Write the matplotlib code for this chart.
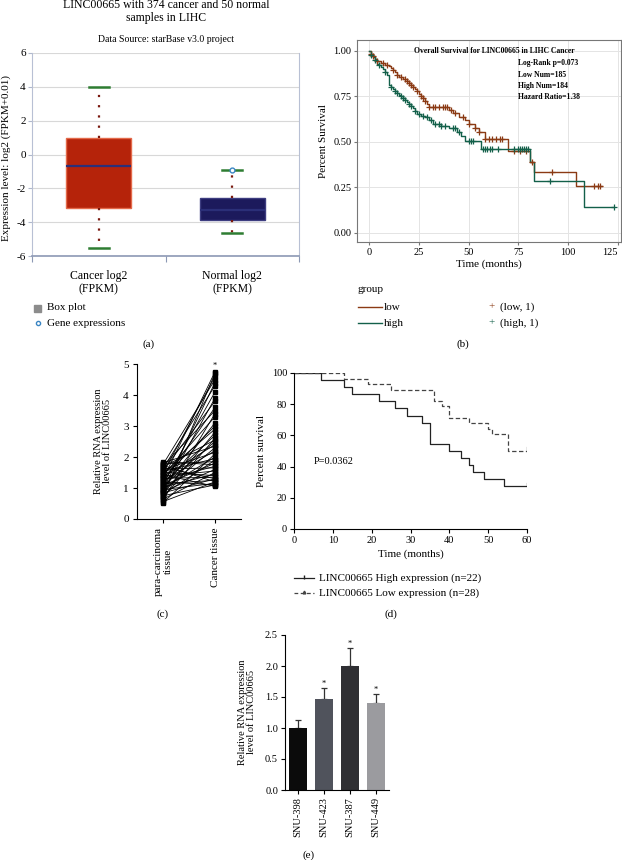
import matplotlib as mpl
mpl.use('Agg')
import matplotlib.pyplot as plt
import numpy as np

plt.rcParams['font.family'] = ['Liberation Serif', 'DejaVu Serif']
plt.rcParams['axes.unicode_minus'] = False

W, H = 622, 860

# (a) box plot, starBase
box_names = ["Cancer log2\n(FPKM)", "Normal log2\n(FPKM)"]
box_med = [-0.7, -3.3]
box_q1 = [-3.15, -3.85]
box_q3 = [1.0, -2.6]
box_lo = [-5.5, -4.65]
box_hi = [4.0, -0.9]
normal_points = [-0.9]

# (b) KM, TCGA LIHC
low_t = [0, 1, 2, 3, 4, 6, 8, 10, 11, 12, 13, 14, 15, 17, 19, 20, 21, 22, 23, 24, 25, 26,
         27, 28, 29, 30, 40, 42, 45, 48, 50, 53, 55, 58, 70, 81, 83, 104]
low_s = [1.0, 0.985, 0.97, 0.955, 0.945, 0.935, 0.925, 0.915, 0.905, 0.895, 0.885, 0.87,
         0.855, 0.845, 0.835, 0.825, 0.815, 0.80, 0.79, 0.78, 0.765, 0.755, 0.74, 0.725,
         0.71, 0.69, 0.675, 0.66, 0.635, 0.62, 0.60, 0.575, 0.555, 0.515, 0.45, 0.39,
         0.335, 0.255]
low_end = 117
low_cens = [1, 2, 4, 7, 9, 12, 14, 16, 18, 19, 20, 21, 22, 24, 26, 27, 28, 30, 32, 33, 35,
            37, 38, 39, 41, 43, 47, 50, 53, 55, 58, 60, 62, 64, 66, 67, 73, 76, 79, 82, 92,
            113, 115, 116]
high_t = [0, 1, 2, 3, 4, 5, 6, 7, 8, 9, 10, 11, 12, 13, 14, 15, 16, 17, 18, 19, 20, 21, 22,
          23, 24, 26, 28, 30, 32, 36, 40, 44, 46, 48, 56, 81, 83, 108]
high_s = [1.0, 0.98, 0.965, 0.95, 0.93, 0.92, 0.91, 0.90, 0.885, 0.87, 0.81, 0.80, 0.79,
          0.78, 0.77, 0.76, 0.75, 0.74, 0.73, 0.72, 0.71, 0.70, 0.685, 0.67, 0.655, 0.645,
          0.635, 0.62, 0.60, 0.585, 0.575, 0.555, 0.53, 0.505, 0.46, 0.39, 0.285, 0.143]
high_end = 123
high_cens = [1, 3, 5, 8, 11, 13, 14, 16, 17, 18, 20, 21, 23, 25, 27, 29, 31, 33, 35, 36, 38,
             42, 43, 45, 50, 51, 52, 57, 58, 59, 61, 62, 65, 73, 75, 76, 77, 78, 79, 80, 91,
             123]

# (c) paired qPCR
para = [0.52, 0.56, 0.61, 0.64, 0.69, 0.71, 0.75, 0.79, 0.81, 0.84, 0.87, 0.88, 0.91,
        0.94, 0.95, 0.98, 1.0, 1.03, 1.06, 1.08, 1.11, 1.13, 1.15, 1.19, 1.2, 1.23, 1.26,
        1.28, 1.31, 1.33, 1.36, 1.38, 1.41, 1.43, 1.46, 1.48, 1.51, 1.53, 1.56, 1.58, 1.61,
        1.63, 1.66, 1.68, 1.71, 1.73, 1.76, 1.78, 1.81, 1.85]
cancer = [2.1, 1.2, 3.4, 1.5, 2.6, 4.7, 1.1, 1.9, 2.8, 1.3, 3.9, 1.6, 2.3, 4.4, 1.15, 2.0,
          3.1, 1.45, 2.5, 1.8, 4.1, 1.25, 2.7, 3.6, 1.1, 2.2, 1.7, 4.75, 1.35, 3.0, 2.4,
          1.55, 3.3, 1.05, 2.9, 4.6, 1.4, 1.95, 3.8, 2.15, 1.65, 4.3, 1.3, 2.55, 3.5, 1.2,
          4.5, 1.85, 2.35, 1.75]
c_labels = ["para-carcinoma\ntissue", "Cancer tissue"]

# (d) KM, own cohort
d_high_t = [0, 7, 13, 15, 22, 26, 29, 33, 35, 40, 43, 45, 46, 49, 54]
d_high_s = [100, 95.5, 90.9, 86.4, 81.8, 77.3, 72.7, 68.2, 54.5, 50.0, 45.5, 40.9, 36.4,
            31.8, 27.3]
d_low_t = [0, 13, 19, 25, 36, 38, 40, 45, 50, 51, 55]
d_low_s = [100, 96.4, 92.9, 89.3, 82.1, 78.6, 71.4, 67.9, 64.3, 60.7, 50.0]
d_end = 60

# (e) cell lines
cells = ["SNU-398", "SNU-423", "SNU-387", "SNU-449"]
cell_val = [1.0, 1.46, 2.0, 1.40]
cell_err = [0.13, 0.18, 0.29, 0.15]
cell_star = [False, True, True, True]
cell_col = ["#0b0b0b", "#50535c", "#2f2f33", "#9b9b9f"]

fig = plt.figure(figsize=(W / 100, H / 100), dpi=100)


def px_axes(l, t, r, b):
    return fig.add_axes([l / W, 1 - b / H, (r - l) / W, (b - t) / H])


def ftext(x, y, s, **kw):
    kw.setdefault('ha', 'center')
    kw.setdefault('va', 'center')
    fig.text(x / W, 1 - y / H, s, **kw)


def step_at(t, s, x):
    i = np.searchsorted(t, x, side='right') - 1
    return np.array(s)[i]


# ---------- (a) ----------
ax = px_axes(32, 53, 299, 256)
stats = []
for i in range(2):
    stats.append(dict(med=box_med[i], q1=box_q1[i], q3=box_q3[i],
                      whislo=box_lo[i], whishi=box_hi[i], fliers=[]))
bp = ax.bxp(stats, positions=[0.5, 1.5], widths=0.49, patch_artist=True,
            capwidths=0.15, showfliers=False,
            whiskerprops=dict(color='#7a1a10', lw=1.6, linestyle=(0, (1, 3.6))),
            capprops=dict(color='#2e7d32', lw=1.8))
for patch, fc, ec in zip(bp['boxes'], ['#b5230a', '#1c1a5c'], ['#e46a4a', '#3d3d80']):
    patch.set_facecolor(fc)
    patch.set_edgecolor(ec)
    patch.set_linewidth(1)
for med in bp['medians']:
    med.set_color('#2b2f78')
    med.set_linewidth(1.6)
ax.plot([1.5] * len(normal_points), normal_points, 'o', ms=3.5, mfc='white',
        mec='#3b86c4', mew=1, zorder=5)
ax.set_xlim(0, 2)
ax.set_ylim(-6, 6)
ax.set_yticks(range(-6, 7, 2))
ax.set_xticks([0, 1, 2])
ax.set_xticklabels([])
ax.set_xticks([0.5, 1.5], box_names, minor=True)
ax.tick_params(axis='x', which='minor', length=0, labelsize=8.5, pad=10)
ax.tick_params(axis='x', which='major', length=4, color='#8c98b4')
ax.tick_params(axis='y', length=3, color='#b0b8cc', labelsize=8, pad=1.5)
ax.yaxis.grid(True, color='#d8d8d8', lw=0.8)
ax.set_axisbelow(True)
ax.spines['top'].set_visible(False)
for s in ['left', 'right']:
    ax.spines[s].set_color('#b8c0d4')
ax.spines['bottom'].set_color('#8c98b4')
ax.spines['bottom'].set_linewidth(1.2)
ftext(6, 158, "Expression level: log2 (FPKM+0.01)", fontsize=8, rotation=90)
ftext(166, 5, "LINC00665 with 374 cancer and 50 normal", fontsize=8.5)
ftext(166, 18, "samples in LIHC", fontsize=8.5)
ftext(166, 40, "Data Source: starBase v3.0 project", fontsize=7)
fig.patches.append(mpl.patches.Rectangle((34 / W, 1 - 312 / H), 7 / W, 7 / H,
                                         transform=fig.transFigure, color='#8c8c8c'))
ftext(47, 308, "Box plot", fontsize=8, ha='left')
fig.lines.append(mpl.lines.Line2D([37.5 / W], [1 - 323 / H], marker='o', ms=3, mfc='white',
                                  mec='#3b86c4', transform=fig.transFigure))
ftext(47, 323, "Gene expressions", fontsize=8, ha='left')
ftext(149, 344, "(a)", fontsize=8)

# ---------- (b) ----------
ax = px_axes(357, 40, 621, 242)
c_low, c_high = '#8b3a14', '#13604a'
ax.step(low_t + [low_end], low_s + [low_s[-1]], where='post', color=c_low, lw=1)
ax.step(high_t + [high_end], high_s + [high_s[-1]], where='post', color=c_high, lw=1)
ax.plot(low_cens, step_at(low_t, low_s, low_cens), '+', color=c_low, ms=4, mew=0.9)
ax.plot(high_cens, step_at(high_t, high_s, high_cens), '+', color=c_high, ms=4, mew=0.9)
ax.set_xlim(-6, 126.5)
ax.set_ylim(-0.05, 1.06)
ax.set_xticks([0, 25, 50, 75, 100, 125])
ax.set_yticks([0, 0.25, 0.5, 0.75, 1.0])
ax.set_yticklabels(["0.00", "0.25", "0.50", "0.75", "1.00"])
ax.grid(True, color='#e4e4e4', lw=0.7)
ax.set_axisbelow(True)
for s in ax.spines.values():
    s.set_color('#777777')
ax.tick_params(length=2, color='#777777', labelsize=7.5, pad=2)
ax.get_xticklabels()[-1].set_horizontalalignment('right')
ax.set_xlabel("Time (months)", fontsize=8, labelpad=2)
ax.set_ylabel("Percent Survival", fontsize=8, labelpad=4)
ax.text(0.52, 0.945, "Overall Survival for LINC00665 in LIHC Cancer", transform=ax.transAxes,
        ha='center', va='center', fontsize=5.5, fontweight='bold')
for k, s in enumerate(["Log-Rank p=0.073", "Low Num=185", "High Num=184",
                       "Hazard Ratio=1.38"]):
    ax.text(0.61, 0.885 - k * 0.056, s, transform=ax.transAxes, ha='left', va='center',
            fontsize=5.5, fontweight='bold')
ftext(358, 290, "group", fontsize=8, ha='left')
for y, col, nm in [(307, c_low, "low"), (323, c_high, "high")]:
    fig.lines.append(mpl.lines.Line2D([358 / W, 382 / W], [1 - y / H] * 2, color=col, lw=1,
                                      transform=fig.transFigure))
    ftext(384, y, nm, fontsize=8, ha='left')
    ftext(492, y, "+", fontsize=8, color=col)
    ftext(500, y, "(%s, 1)" % nm, fontsize=8, ha='left')
ftext(463, 344, "(b)", fontsize=8)

# ---------- (c) ----------
ax = px_axes(137, 364, 241, 519)
ax.plot([0, 1], np.vstack([para, cancer]), color='black', lw=0.6, marker='s', ms=3.5)
ax.set_xlim(-0.5, 1.5)
ax.set_ylim(0, 5)
ax.set_xticks([0, 1], c_labels, rotation=90, va='top', ha='center')
ax.set_yticks(range(6))
ax.tick_params(labelsize=8, length=3, pad=3)
for s in ['top', 'right']:
    ax.spines[s].set_visible(False)
ax.text(1, 4.95, "*", ha='center', va='center', fontsize=6)
ftext(103, 441, "Relative RNA expression\nlevel of LINC00665", fontsize=7.5, rotation=90,
      linespacing=1.1)
ftext(163, 614, "(c)", fontsize=8)

# ---------- (d) ----------
ax = px_axes(294, 373, 527, 529)
ax.step(d_high_t + [d_end], d_high_s + [d_high_s[-1]], where='post', color='#222222', lw=0.9)
ax.step(d_low_t + [d_end], d_low_s + [d_low_s[-1]], where='post', color='#444444', lw=0.9,
        linestyle=(0, (3.5, 2)))
ax.plot([d_end, d_end], [d_high_s[-1], d_high_s[-1] + 2.5], color='#222222', lw=0.9)
ax.plot([d_end, d_end], [d_low_s[-1], d_low_s[-1] + 2.5], color='#444444', lw=0.9)
ax.set_xlim(0, 60)
ax.set_ylim(0, 100)
ax.set_xticks(range(0, 61, 10))
ax.set_yticks(range(0, 101, 20))
ax.tick_params(labelsize=7.5, length=3, pad=2)
for s in ['top', 'right']:
    ax.spines[s].set_visible(False)
ax.set_xlabel("Time (months)", fontsize=8, labelpad=3)
ax.set_ylabel("Percent survival", fontsize=8, labelpad=4)
ax.text(5, 43, "P=0.0362", fontsize=7.5, va='center')
fig.lines.append(mpl.lines.Line2D([294 / W, 314 / W], [1 - 578 / H] * 2, color='#222222',
                                  lw=0.9, transform=fig.transFigure))
fig.lines.append(mpl.lines.Line2D([304 / W], [1 - 577 / H], color='#222222', marker='|', ms=3,
                                  transform=fig.transFigure))
fig.lines.append(mpl.lines.Line2D([294 / W, 314 / W], [1 - 593 / H] * 2, color='#444444',
                                  lw=0.9, linestyle=(0, (3, 2)), transform=fig.transFigure))
fig.lines.append(mpl.lines.Line2D([304 / W], [1 - 592 / H], color='#444444', marker='^', ms=2,
                                  transform=fig.transFigure))
ftext(319, 578, "LINC00665 High expression (n=22)", fontsize=8, ha='left')
ftext(319, 593, "LINC00665 Low expression (n=28)", fontsize=8, ha='left')
ftext(391, 614, "(d)", fontsize=8)

# ---------- (e) ----------
ax = px_axes(285, 635, 389, 790)
x = np.arange(len(cells))
ax.bar(x, cell_val, width=0.69, color=cell_col, zorder=2)
ax.errorbar(x, cell_val, yerr=[np.zeros(len(cells)), cell_err], fmt='none', ecolor='#333333',
            elinewidth=0.9, capsize=2.5, capthick=0.9, zorder=1)
for i in range(len(cells)):
    if cell_star[i]:
        ax.text(x[i], cell_val[i] + cell_err[i] + 0.07, "*", ha='center', va='center',
                fontsize=6)
ax.set_xlim(-0.5, 3.5)
ax.set_ylim(0, 2.5)
ax.set_yticks([0, 0.5, 1.0, 1.5, 2.0, 2.5])
ax.set_yticklabels(["0.0", "0.5", "1.0", "1.5", "2.0", "2.5"])
ax.set_xticks(x, cells, rotation=90)
ax.tick_params(labelsize=7.5, length=3, pad=2)
for s in ['top', 'right']:
    ax.spines[s].set_visible(False)
ftext(247, 712, "Relative RNA expression\nlevel of LINC00665", fontsize=7.5, rotation=90,
      linespacing=1.1)
ftext(309, 855, "(e)", fontsize=8)

fig.savefig('out.png', dpi=100)
